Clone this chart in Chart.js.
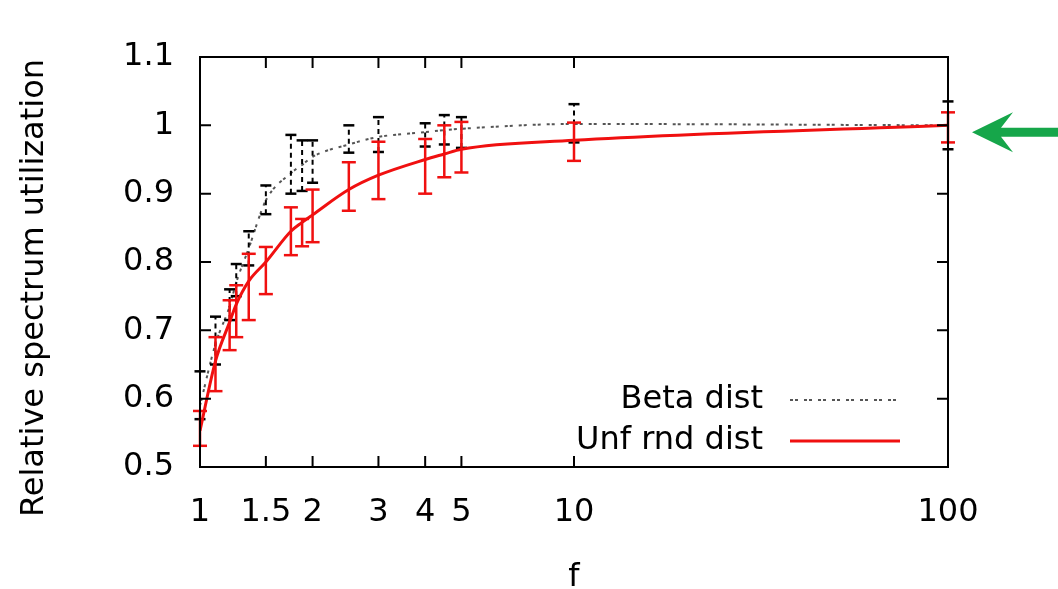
<!DOCTYPE html>
<html>
<head>
<meta charset="utf-8">
<script src="https://cdn.jsdelivr.net/npm/chart.js@4.4.0/dist/chart.umd.min.js"></script>
<style>
  html, body { margin: 0; padding: 0; background: #fff; }
  #wrap { width: 1058px; height: 589px; }
</style>
</head>
<body>
<div id="wrap"><canvas id="chart" width="1058" height="589"></canvas></div>
<script>
// f (x axis, log scale)
var fValues  = [1, 1.1, 1.2, 1.25, 1.35, 1.5, 1.75, 1.875, 2, 2.5, 3, 4, 4.5, 5, 10, 100];
// Unf rnd dist: curve and error bar bounds
var unfLine  = [0.553, 0.655, 0.712, 0.738, 0.772, 0.800, 0.845, 0.858, 0.869, 0.906, 0.927, 0.950, 0.958, 0.965, 0.978, 1.000];
var unfLow   = [0.531, 0.611, 0.671, 0.690, 0.715, 0.753, 0.810, 0.823, 0.829, 0.875, 0.892, 0.900, 0.924, 0.931, 0.948, 0.975];
var unfHigh  = [0.582, 0.690, 0.744, 0.766, 0.812, 0.822, 0.880, 0.863, 0.906, 0.946, 0.976, 0.980, 1.000, 1.005, 1.004, 1.019];
// Beta dist: curve and error bar bounds
var betaLine = [0.590, 0.680, 0.735, 0.770, 0.820, 0.890, 0.930, 0.942, 0.954, 0.972, 0.983, 0.990, 0.993, 0.995, 1.002, 1.000];
var betaLow  = [0.570, 0.650, 0.715, 0.750, 0.795, 0.870, 0.900, 0.904, 0.916, 0.960, 0.961, 0.969, 0.972, 0.967, 0.975, 0.965];
var betaHigh = [0.640, 0.720, 0.760, 0.797, 0.845, 0.912, 0.986, 0.978, 0.978, 1.000, 1.012, 1.003, 1.015, 1.012, 1.031, 1.035];

var xTickValues = [1, 1.5, 2, 3, 4, 5, 10, 100];
var yTickValues = [0.5, 0.6, 0.7, 0.8, 0.9, 1.0, 1.1];
var seriesNames = ['Beta dist', 'Unf rnd dist'];
var arrowValue = 0.99;

var FONT = 'DejaVu Sans';
var RED = '#f01010';

function toPoints(vals) {
    return fValues.map(function (f, i) { return { x: f, y: vals[i] }; });
}
// lo, hi, gap for each f -> vertical bars with caps
function toErrPoints(lows, highs) {
    var out = [];
    for (let i = 0; i < fValues.length; i++) {
        out.push({ x: fValues[i], y: lows[i] });
        out.push({ x: fValues[i], y: highs[i] });
        out.push({ x: fValues[i], y: null });
    }
    return out;
}

var framePlugin = {
    id: 'frame',
    afterDatasetsDraw: function (chart) {
        var ctx = chart.ctx, a = chart.chartArea;
        var xs = chart.scales.x, ys = chart.scales.y;
        ctx.save();
        ctx.strokeStyle = '#000';
        ctx.lineWidth = 2;
        ctx.beginPath();
        xs.ticks.forEach(function (t) {
            var px = xs.getPixelForValue(t.value);
            ctx.moveTo(px, a.bottom); ctx.lineTo(px, a.bottom - 11);
            ctx.moveTo(px, a.top); ctx.lineTo(px, a.top + 11);
        });
        ys.ticks.forEach(function (t) {
            var py = ys.getPixelForValue(t.value);
            ctx.moveTo(a.left, py); ctx.lineTo(a.left + 11, py);
            ctx.moveTo(a.right, py); ctx.lineTo(a.right - 11, py);
        });
        ctx.stroke();
        ctx.strokeRect(a.left, a.top, a.right - a.left, a.bottom - a.top);

        // legend, inside bottom right
        ctx.font = '32px "' + FONT + '"';
        ctx.fillStyle = '#000';
        ctx.textAlign = 'right';
        ctx.textBaseline = 'middle';
        var rows = [a.bottom - 67, a.bottom - 26];
        var textRight = a.right - 185, lineL = a.right - 158, lineR = a.right - 48;
        ctx.fillText(seriesNames[0], textRight, rows[0]);
        ctx.fillText(seriesNames[1], textRight, rows[1]);
        ctx.beginPath();
        ctx.strokeStyle = '#555';
        ctx.lineWidth = 2;
        ctx.setLineDash([3, 2, 3, 6]);
        ctx.moveTo(lineL, rows[0]); ctx.lineTo(lineR, rows[0]);
        ctx.stroke();
        ctx.setLineDash([]);
        ctx.beginPath();
        ctx.strokeStyle = RED;
        ctx.lineWidth = 3;
        ctx.moveTo(lineL, rows[1]); ctx.lineTo(lineR, rows[1]);
        ctx.stroke();

        // y axis title
        ctx.save();
        ctx.translate(a.left - 165, (a.top + a.bottom) / 2 + 26);
        ctx.rotate(-Math.PI / 2);
        ctx.textAlign = 'center';
        ctx.fillText('Relative spectrum utilization', 0, 0);
        ctx.restore();

        // green arrow pointing at the plot
        var ty = ys.getPixelForValue(arrowValue);
        var tx = a.right + 24;
        ctx.fillStyle = '#16a64a';
        ctx.beginPath();
        ctx.moveTo(tx, ty);
        ctx.lineTo(tx + 41, ty - 20);
        ctx.lineTo(tx + 29, ty - 4.5);
        ctx.lineTo(chart.width, ty - 4.5);
        ctx.lineTo(chart.width, ty + 4.5);
        ctx.lineTo(tx + 29, ty + 4.5);
        ctx.lineTo(tx + 41, ty + 20);
        ctx.closePath();
        ctx.fill();
        ctx.restore();
    }
};

var ctx = document.getElementById('chart');
var chart = new Chart(ctx, {
    type: 'line',
    data: {
        datasets: [{
            label: seriesNames[1] + ' err',
            data: toErrPoints(unfLow, unfHigh),
            borderColor: RED,
            backgroundColor: RED,
            borderWidth: 2.5,
            pointStyle: 'line',
            pointRadius: 7,
            pointBorderWidth: 2.5,
            pointBorderColor: RED,
            spanGaps: false,
            tension: 0,
            clip: false
        }, {
            label: seriesNames[1],
            data: toPoints(unfLine),
            borderColor: RED,
            borderWidth: 3,
            pointRadius: 0,
            cubicInterpolationMode: 'monotone',
            fill: false
        }, {
            label: seriesNames[0] + ' err',
            data: toErrPoints(betaLow, betaHigh),
            borderColor: '#000',
            backgroundColor: '#000',
            borderWidth: 2,
            borderDash: [5, 4],
            pointStyle: 'line',
            pointRadius: 5.5,
            pointBorderWidth: 2.5,
            pointBorderColor: '#000',
            spanGaps: false,
            tension: 0,
            clip: false
        }, {
            label: seriesNames[0],
            data: toPoints(betaLine),
            borderColor: '#555',
            borderWidth: 2,
            borderDash: [3, 2, 3, 6],
            pointRadius: 0,
            cubicInterpolationMode: 'monotone',
            fill: false
        }]
    },
    options: {
        responsive: false,
        animation: false,
        events: [],
        layout: { padding: { top: 57, right: 110, bottom: 0, left: 0 } },
        plugins: {
            legend: { display: false },
            tooltip: { enabled: false }
        },
        scales: {
            x: {
                type: 'logarithmic',
                min: 1,
                max: 100,
                grid: { display: false },
                border: { display: false },
                afterBuildTicks: function (scale) {
                    scale.ticks = xTickValues.map(function (v) { return { value: v }; });
                },
                afterFit: function (scale) { scale.height = 122; },
                ticks: {
                    autoSkip: false,
                    maxRotation: 0,
                    minRotation: 0,
                    padding: 18,
                    color: '#000',
                    font: { family: FONT, size: 32 },
                    callback: function (v) { return String(v); }
                },
                title: {
                    display: true,
                    text: 'f',
                    color: '#000',
                    font: { family: FONT, size: 32 },
                    padding: { top: 0, bottom: -8 }
                }
            },
            y: {
                type: 'linear',
                min: 0.5,
                max: 1.1,
                grid: { display: false },
                border: { display: false },
                afterBuildTicks: function (scale) {
                    scale.ticks = yTickValues.map(function (v) { return { value: v }; });
                },
                afterFit: function (scale) { scale.width = 200; },
                ticks: {
                    padding: 18,
                    color: '#000',
                    font: { family: FONT, size: 32 },
                    callback: function (v) { return String(Math.round(v * 10) / 10); }
                }
            }
        }
    },
    plugins: [framePlugin]
});
</script>
</body>
</html>
